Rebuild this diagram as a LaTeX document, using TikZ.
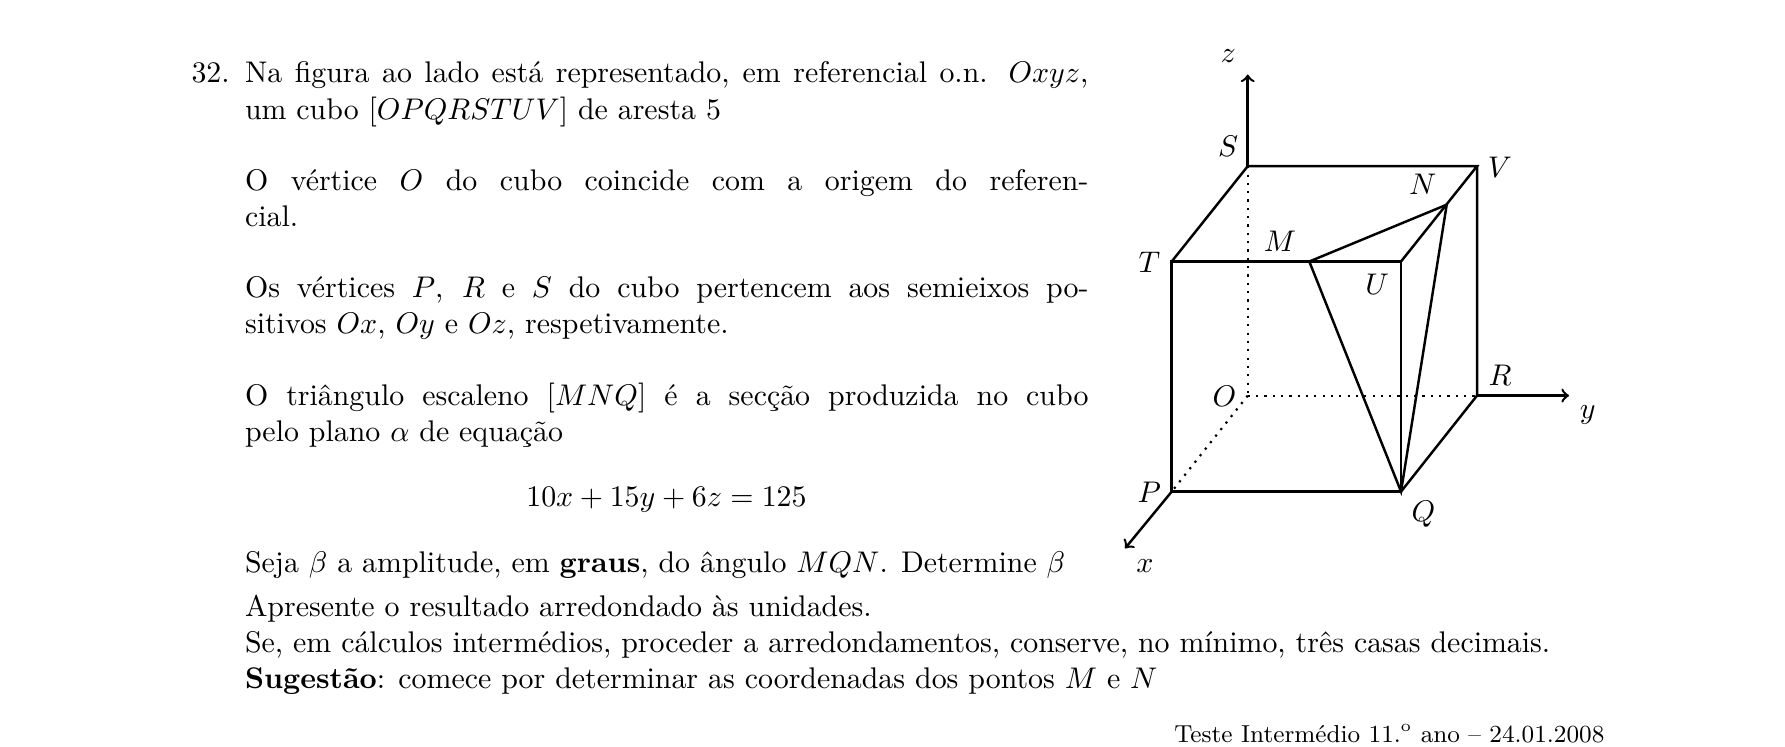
\documentclass[tikz,border=0pt,11pt]{standalone}
\usepackage{tikz}
\usetikzlibrary{arrows}
\tikzset{
	textline/.style={anchor=base west, inner sep=0pt},
	textblock/.style={anchor=base west, inner sep=0pt, text width=309.2pt, align=justify, font=\fontsize{10.95}{13.2}\selectfont},
	vertexlabel/.style={inner sep=0pt},
	edge/.style={line width=0.9pt},
	hidden/.style={line width=0.8pt, dash pattern=on 0.8pt off 2.25pt},
	axis/.style={line width=0.9pt, ->}
}

\begin{document}
\begin{tikzpicture}[x=0.3666pt,y=-0.3666pt]
	\useasboundingbox (0,0) rectangle (1785,747);

	% text of the question
	\node[textline] (number) at (191,83) {32.};
	\node[textblock] (intro) at (244.5,83) {Na figura ao lado está representado, em referencial o.n. $Oxyz$,\linebreak um cubo $[OPQRSTUV]$ de aresta 5};
	\node[textblock] (origin) at (244.5,190.5) {O vértice $O$ do cubo coincide com a origem do referen-\linebreak cial.};
	\node[textblock] (vertices) at (244.5,297.5) {Os vértices $P$, $R$ e $S$ do cubo pertencem aos semieixos po-\linebreak sitivos $Ox$, $Oy$ e $Oz$, respetivamente.};
	\node[textblock] (section) at (244.5,405.5) {O triângulo escaleno $[MNQ]$ é a secção produzida no cubo\linebreak pelo plano $\alpha$ de equação};
	\node[textline, anchor=base] (equation) at (666.5,506.5) {$10x+15y+6z=125$};
	\node[textline] (task) at (244.5,572) {Seja $\beta$ a amplitude, em \textbf{graus}, do ângulo $MQN$. Determine $\beta$};
	\node[textline] (round) at (244.5,616.5) {Apresente o resultado arredondado às unidades.};
	\node[textline] (decimals) at (244.5,652.5) {Se, em cálculos intermédios, proceder a arredondamentos, conserve, no mínimo, três casas decimais.};
	\node[textline] (hint) at (244.5,688.5) {\textbf{Sugestão}: comece por determinar as coordenadas dos pontos $M$ e $N$};
	\node[textline, anchor=base east, font=\footnotesize] (source) at (1605,742) {Teste Intermédio 11.$^{\mathrm{o}}$ ano -- 24.01.2008};

	% cube
	\coordinate (O) at (1247.7,395.6);
	\coordinate (P) at (1171.7,491.6);
	\coordinate (Q) at (1401,491.6);
	\coordinate (R) at (1477,395.6);
	\coordinate (S) at (1247.7,166.2);
	\coordinate (T) at (1171.7,261.5);
	\coordinate (U) at (1401,261.5);
	\coordinate (V) at (1477,166.2);
	\coordinate (M) at (1309.3,261.5);
	\coordinate (N) at (1446.7,204.7);
	\coordinate (xtip) at (1125,548.4);
	\coordinate (ytip) at (1569,395.6);
	\coordinate (ztip) at (1247.7,74.5);

	\draw [hidden] (S) -- (O);
	\draw [hidden] (O) -- (R);
	\draw [hidden] (O) -- (P);

	\draw [edge] (P) -- (Q) -- (U) -- (T) -- cycle;
	\draw [edge] (T) -- (S) -- (V) -- (U);
	\draw [edge] (V) -- (R) -- (Q);
	\draw [edge] (M) -- (N) -- (Q) -- cycle;

	\draw [axis] (P) -- (xtip);
	\draw [axis] (R) -- (ytip);
	\draw [axis] (S) -- (ztip);

	% labels
	\node[vertexlabel] (labelO) at (1224.3,396.4) {$O$};
	\node[vertexlabel] (labelP) at (1149.3,492.7) {$P$};
	\node[vertexlabel] (labelQ) at (1423.3,514.5) {$Q$};
	\node[vertexlabel] (labelR) at (1500,375.6) {$R$};
	\node[vertexlabel] (labelS) at (1228,146.5) {$S$};
	\node[vertexlabel] (labelT) at (1149.3,261.8) {$T$};
	\node[vertexlabel] (labelU) at (1377.3,284.4) {$U$};
	\node[vertexlabel] (labelV) at (1500,167.3) {$V$};
	\node[vertexlabel] (labelM) at (1280,241) {$M$};
	\node[vertexlabel] (labelN) at (1422.7,184.4) {$N$};
	\node[vertexlabel] (labelx) at (1145,566.5) {$x$};
	\node[vertexlabel] (labely) at (1587.7,414.5) {$y$};
	\node[vertexlabel] (labelz) at (1228.3,56.4) {$z$};
\end{tikzpicture}
\end{document}
